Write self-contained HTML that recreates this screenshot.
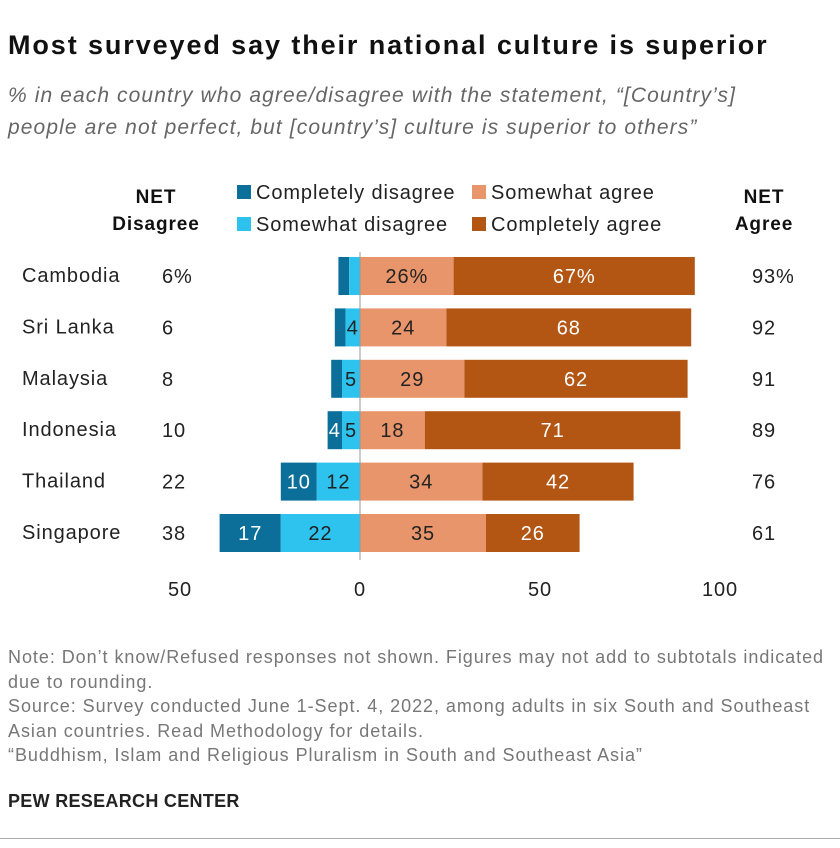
<!DOCTYPE html>
<html><head><meta charset="utf-8">
<style>
body{margin:0;width:840px;height:848px;background:#fff;font-family:"Liberation Sans",sans-serif;overflow:hidden;position:relative}
.t{position:absolute;white-space:nowrap}
svg text{letter-spacing:0.9px}
</style></head>
<body>
<div class="t" style="left:8px;top:30px;font-size:27px;font-weight:bold;color:#111;letter-spacing:1.9px">Most surveyed say their national culture is superior</div>
<div class="t" style="left:8px;top:80px;font-size:21px;font-style:italic;color:#666;line-height:32px;letter-spacing:1.1px">% in each country who agree/disagree with the statement, “[Country’s]<br>people are not perfect, but [country’s] culture is superior to others”</div>
<svg id="chart" width="840" height="620" style="position:absolute;left:0;top:170px"></svg>
<div class="t" style="left:8px;top:645px;font-size:18px;color:#777;line-height:24.5px;letter-spacing:0.95px">Note: Don’t know/Refused responses not shown. Figures may not add to subtotals indicated<br>due to rounding.<br>Source: Survey conducted June 1-Sept. 4, 2022, among adults in six South and Southeast<br>Asian countries. Read Methodology for details.<br>“Buddhism, Islam and Religious Pluralism in South and Southeast Asia”</div>
<div class="t" style="left:8px;top:791px;font-size:18px;font-weight:bold;color:#222;letter-spacing:0.3px">PEW RESEARCH CENTER</div>
<div style="position:absolute;left:0;top:838px;width:840px;height:1px;background:#aaa"></div>
<script>
const countries=["Cambodia","Sri Lanka","Malaysia","Indonesia","Thailand","Singapore"];
const compDis=[3,3,3,4,10,17];
const someDis=[3,4,5,5,12,22];
const someAgr=[26,24,29,18,34,35];
const compAgr=[67,68,62,71,42,26];
const netDis=["6%","6","8","10","22","38"];
const netAgr=["93%","92","91","89","76","61"];
const disLabels=[["",""],["","4"],["","5"],["4","5"],["10","12"],["17","22"]];
const agrLabels=[["26%","67%"],["24","68"],["29","62"],["18","71"],["34","42"],["35","26"]];
const ticks=[-50,0,50,100];
const tickText=["50","0","50","100"];
const NS="http://www.w3.org/2000/svg";
const svg=document.getElementById('chart');
const x=v=>360+v*3.6;
function el(tag,attrs,txt){const e=document.createElementNS(NS,tag);for(const k in attrs)e.setAttribute(k,attrs[k]);if(txt!==undefined)e.textContent=txt;svg.appendChild(e);return e;}
const C={cd:"#0b6f9a",sd:"#2dc3ee",sa:"#e8956b",ca:"#b35614"};
let h;
h=el('text',{x:156,y:33,'text-anchor':'middle','font-size':19,'font-weight':'bold',fill:'#111'},'NET');

h=el('text',{x:156,y:60,'text-anchor':'middle','font-size':19,'font-weight':'bold',fill:'#111'},'Disagree');

h=el('text',{x:764,y:33,'text-anchor':'middle','font-size':19,'font-weight':'bold',fill:'#111'},'NET');

h=el('text',{x:764,y:60,'text-anchor':'middle','font-size':19,'font-weight':'bold',fill:'#111'},'Agree');

const leg=[["Completely disagree",C.cd,237,22],["Somewhat disagree",C.sd,237,54],["Somewhat agree",C.sa,472,22],["Completely agree",C.ca,472,54]];
leg.forEach(l=>{
 const r=el('rect',{x:l[2],y:l[3]-7,width:14,height:14,fill:l[1]});
 
 const t=el('text',{x:l[2]+19,y:l[3]+7,'font-size':20,fill:'#222'},l[0]);
 
});
countries.forEach((c,i)=>{
 const cy=106+i*51.4, top=cy-19, hh=38;
 const segs=[[-(compDis[i]+someDis[i]),compDis[i],C.cd,disLabels[i][0],'#fff','bar-completely-disagree'],
  [-someDis[i],someDis[i],C.sd,disLabels[i][1],'#222','bar-somewhat-disagree'],
  [0,someAgr[i],C.sa,agrLabels[i][0],'#222','bar-somewhat-agree'],
  [someAgr[i],compAgr[i],C.ca,agrLabels[i][1],'#fff','bar-completely-agree']];
 segs.forEach(s=>{
  const r=el('rect',{x:x(s[0]),y:top,width:s[1]*3.6,height:hh,fill:s[2]});
  
  if(s[3]){const t=el('text',{x:x(s[0]+s[1]/2),y:cy+7,'text-anchor':'middle','font-size':20,fill:s[4]},s[3]);
   }
 });
 let t=el('text',{x:22,y:cy+6,'font-size':20,fill:'#222'},c);
 
 t=el('text',{x:162,y:cy+7,'font-size':20,fill:'#222'},netDis[i]);
 
 t=el('text',{x:752,y:cy+7,'font-size':20,fill:'#222'},netAgr[i]);
 
});
const ax=el('line',{x1:360,x2:360,y1:82,y2:390,stroke:'#999','stroke-width':1});

ticks.forEach((v,i)=>{const t=el('text',{x:x(v),y:426,'text-anchor':'middle','font-size':20,fill:'#222'},tickText[i]);
 });
</script>
</body></html>
